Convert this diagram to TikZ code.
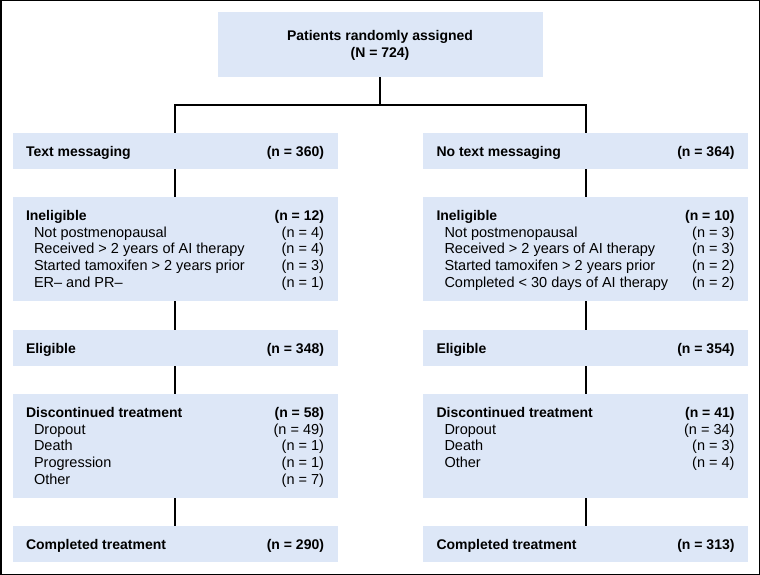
\documentclass[tikz,border=0pt]{standalone}
\usepackage{fontspec}
\setmainfont{Liberation Sans}
\usepackage{xcolor}
\usepackage{tikz}

\definecolor{boxblue}{RGB}{221,231,247}
\newcommand{\hd}[1]{{\fontsize{14}{16.7}\selectfont\bfseries #1}}
\newcommand{\ind}{\hspace*{8pt}}

\begin{document}
\begin{tikzpicture}[x=1pt,y=-1pt,
	box/.style={fill=boxblue, minimum width=325pt, inner sep=0pt, font=\fontsize{14.5}{16.7}\selectfont},
	smallbox/.style={box, text height=23.5pt, text depth=12.5pt},
	bigbox/.style={box, text height=23.5pt, text depth=80.5pt},
	link/.style={line width=2pt}]

\useasboundingbox (0,0) rectangle (760,575);
\draw[line width=1.5pt] (0.75,0.75) rectangle (759.25,574.25);

% top
\node[box, text height=28.5pt, text depth=36.5pt] (rand) at (380,44.5)
	{\begin{tabular}[t]{@{}c@{}}\hd{Patients randomly assigned}\\ \hd{(N = 724)}\end{tabular}};
\coordinate (split) at (380,105);

% left arm
\node[smallbox] (textL) at (175,151)
	{\begin{tabular*}{298pt}[t]{@{\extracolsep{\fill}}lr@{}}\hd{Text messaging} & \hd{(n = 360)}\end{tabular*}};
\node[bigbox] (inelL) at (175,249)
	{\begin{tabular*}{298pt}[t]{@{\extracolsep{\fill}}lr@{}}
	\hd{Ineligible} & \hd{(n = 12)}\\
	\ind Not postmenopausal & (n = 4)\\
	\ind Received > 2 years of AI therapy & (n = 4)\\
	\ind Started tamoxifen > 2 years prior & (n = 3)\\
	\ind ER– and PR– & (n = 1)
	\end{tabular*}};
\node[smallbox] (eligL) at (175,348)
	{\begin{tabular*}{298pt}[t]{@{\extracolsep{\fill}}lr@{}}\hd{Eligible} & \hd{(n = 348)}\end{tabular*}};
\node[bigbox] (discL) at (175,446)
	{\begin{tabular*}{298pt}[t]{@{\extracolsep{\fill}}lr@{}}
	\hd{Discontinued treatment} & \hd{(n = 58)}\\
	\ind Dropout & (n = 49)\\
	\ind Death & (n = 1)\\
	\ind Progression & (n = 1)\\
	\ind Other & (n = 7)
	\end{tabular*}};
\node[smallbox] (compL) at (175,544)
	{\begin{tabular*}{298pt}[t]{@{\extracolsep{\fill}}lr@{}}\hd{Completed treatment} & \hd{(n = 290)}\end{tabular*}};

% right arm
\node[smallbox] (textR) at (585.5,151)
	{\begin{tabular*}{298pt}[t]{@{\extracolsep{\fill}}lr@{}}\hd{No text messaging} & \hd{(n = 364)}\end{tabular*}};
\node[bigbox] (inelR) at (585.5,249)
	{\begin{tabular*}{298pt}[t]{@{\extracolsep{\fill}}lr@{}}
	\hd{Ineligible} & \hd{(n = 10)}\\
	\ind Not postmenopausal & (n = 3)\\
	\ind Received > 2 years of AI therapy & (n = 3)\\
	\ind Started tamoxifen > 2 years prior & (n = 2)\\
	\ind Completed < 30 days of AI therapy & (n = 2)
	\end{tabular*}};
\node[smallbox] (eligR) at (585.5,348)
	{\begin{tabular*}{298pt}[t]{@{\extracolsep{\fill}}lr@{}}\hd{Eligible} & \hd{(n = 354)}\end{tabular*}};
\node[bigbox] (discR) at (585.5,446)
	{\begin{tabular*}{298pt}[t]{@{\extracolsep{\fill}}lr@{}}
	\hd{Discontinued treatment} & \hd{(n = 41)}\\
	\ind Dropout & (n = 34)\\
	\ind Death & (n = 3)\\
	\ind Other & (n = 4)
	\end{tabular*}};
\node[smallbox] (compR) at (585.5,544)
	{\begin{tabular*}{298pt}[t]{@{\extracolsep{\fill}}lr@{}}\hd{Completed treatment} & \hd{(n = 313)}\end{tabular*}};

% connectors
\draw[link] (rand.south) -- (split);
\draw[link] (textL.north) |- (split) -| (textR.north);
\foreach \s in {L,R}{
	\draw[link] (text\s.south) -- (inel\s.north);
	\draw[link] (inel\s.south) -- (elig\s.north);
	\draw[link] (elig\s.south) -- (disc\s.north);
	\draw[link] (disc\s.south) -- (comp\s.north);
}
\end{tikzpicture}
\end{document}
